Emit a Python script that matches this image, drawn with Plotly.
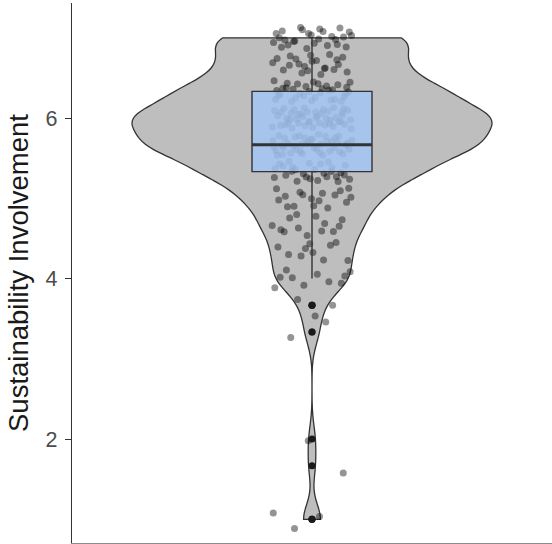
import numpy as np
import plotly.graph_objects as go

# ---- data ----
levels = [1.0, 1.667, 2.0, 3.333, 3.667, 4.0, 4.333, 4.667, 5.0, 5.333,
          5.667, 6.0, 6.333, 6.667, 7.0]
counts = [3, 1, 1, 2, 3, 10, 10, 13, 17, 28, 43, 47, 34, 22, 27]
y_ticks = [2, 4, 6]
y_title = "Sustainability Involvement"

values = np.repeat(np.array(levels), counts)
n = len(values)

# kernel bandwidth of the violin (style setting)
BANDWIDTH = 0.19


# deterministic low-discrepancy jitter (Halton sequence), width 0.1,
# height 0.4 * resolution of the data
def halton(i, b):
    f, r = 1.0, 0.0
    while i > 0:
        f /= b
        r += f * (i % b)
        i //= b
    return r


JW, JH = 0.1, 0.4 * (1 / 3)
idx = np.arange(1, n + 1) * 7 + 11
jx = (np.array([halton(int(i), 2) for i in idx]) - 0.5) * 2 * JW
jy = (np.array([halton(int(i), 3) for i in idx]) - 0.5) * 2 * JH

VIOLIN_W, BOX_W = 0.9, 0.3
YR = [0.7045, 7.434]
XR = [-0.6, 0.6]

fig = go.Figure()
fig.add_trace(go.Violin(
    x0=0, y=values, width=VIOLIN_W, spanmode="hard", bandwidth=BANDWIDTH,
    scalemode="width", fillcolor="#BEBEBE",
    line=dict(color="#333333", width=1.3),
    points=False, box_visible=False, meanline_visible=False,
    hoverinfo="skip", showlegend=False))

fig.add_trace(go.Scatter(
    x=jx, y=values + jy, mode="markers",
    marker=dict(size=7, color="rgba(0,0,0,0.42)", line=dict(width=0)),
    hoverinfo="skip", showlegend=False))

fig.add_trace(go.Box(
    x0=0, y=values, width=BOX_W, xaxis="x2", yaxis="y2",
    fillcolor="rgba(163,197,245,0.85)",
    line=dict(color="#333333", width=1.4), whiskerwidth=0,
    boxpoints="outliers", quartilemethod="linear",
    marker=dict(color="#1a1a1a", size=7, opacity=1),
    hoverinfo="skip", showlegend=False))

med = float(np.median(values))
fig.add_trace(go.Scatter(
    x=[-BOX_W / 2, BOX_W / 2], y=[med, med], mode="lines",
    xaxis="x2", yaxis="y2",
    line=dict(color="#333333", width=3), hoverinfo="skip", showlegend=False))

fig.update_layout(
    width=552, height=544,
    margin=dict(l=72, r=0, t=3, b=1),
    plot_bgcolor="white", paper_bgcolor="white",
    font=dict(family="Liberation Sans, Arial, Helvetica, sans-serif"),
    showlegend=False,
    xaxis=dict(type="linear", range=XR, showticklabels=False, ticks="",
               showline=True, linecolor="#8c8c8c", linewidth=1,
               showgrid=False, zeroline=False),
    yaxis=dict(range=YR, tickvals=y_ticks, ticks="outside", ticklen=6,
               tickwidth=1.3, tickcolor="#333333",
               showline=True, linecolor="#333333", linewidth=1.4,
               showgrid=False, zeroline=False,
               tickfont=dict(size=21.5, color="#4d4d4d"),
               ticklabelstandoff=3,
               title=dict(text=y_title, font=dict(size=27.5, color="#1a1a1a"),
                          standoff=8)),
    xaxis2=dict(type="linear", overlaying="x", anchor="y2", range=XR,
                visible=False),
    yaxis2=dict(overlaying="y", anchor="x2", range=YR, visible=False),
)

fig.write_html("out.html")
